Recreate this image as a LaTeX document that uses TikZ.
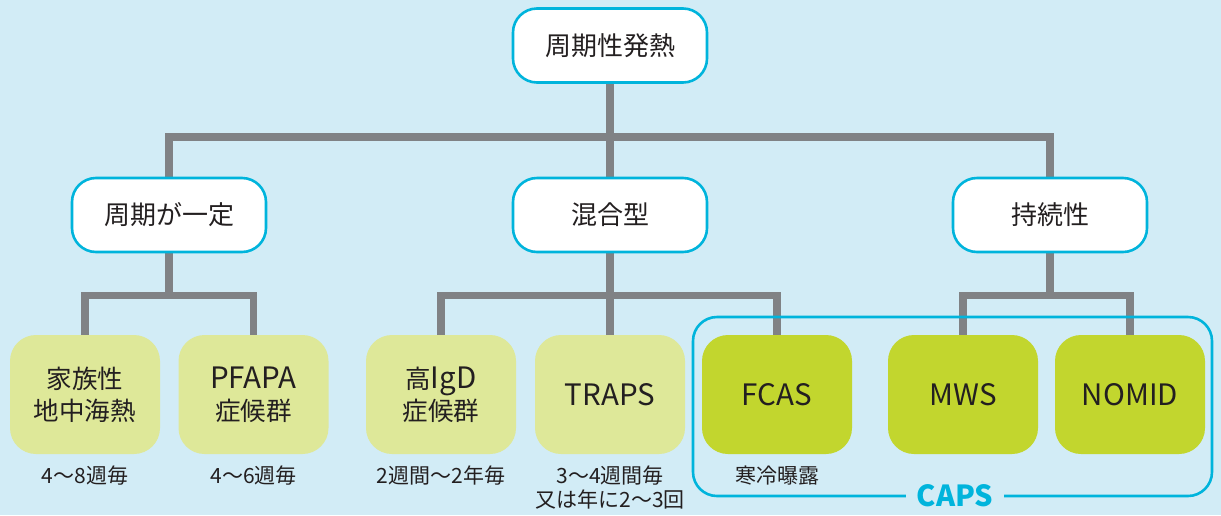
\documentclass[tikz,border=0pt]{standalone}
\usepackage{fontspec}
\setmainfont{Noto Sans CJK JP}
\usetikzlibrary{calc}
\definecolor{bgcol}{HTML}{D2ECF6}
\definecolor{cyanline}{HTML}{00B4DC}
\definecolor{graycon}{HTML}{808285}
\definecolor{lightgreen}{HTML}{DEE899}
\definecolor{brightgreen}{HTML}{C2D62E}
\definecolor{txt}{HTML}{231F20}
\newcommand{\latn}[1]{{\fontsize{29.5}{31}\selectfont #1}}
\pgfdeclarelayer{bgfill}
\pgfdeclarelayer{back}
\pgfsetlayers{bgfill,back,main}
\tikzset{
  catbox/.style={draw=cyanline, line width=2.6pt, fill=white, rounded corners=24pt,
    minimum width=194pt, minimum height=74pt, inner sep=0pt, text=txt,
    font=\fontsize{26}{30}\selectfont},
  disbox/.style={fill=lightgreen, rounded corners=26pt, minimum width=150pt,
    minimum height=119pt, inner sep=0pt, text=txt, align=center,
    font=\fontsize{25.5}{32}\selectfont},
  capsbox/.style={disbox, fill=brightgreen},
  conn/.style={draw=graycon, line width=7.5pt},
  note/.style={text=txt, align=center, inner sep=0pt, font=\fontsize{21}{24.5}\selectfont},
}
\begin{document}
\begin{tikzpicture}[x=1pt,y=-1pt]
\begin{pgfonlayer}{bgfill}
\fill[bgcol] (0,0) rectangle (1221,515);
\end{pgfonlayer}
\useasboundingbox (0,0) rectangle (1221,515);

% top and categories
\node[catbox] (root) at (610,45.5) {周期性発熱};
\node[catbox] (m1) at (169,215) {周期が一定};
\node[catbox] (m2) at (610,215) {混合型};
\node[catbox] (m3) at (1050,215) {持続性};

% diseases
\node[disbox] (b1) at (85,394.5) {家族性\\地中海熱};
\node[disbox] (b2) at (253.5,394.5) {\latn{PFAPA}\\症候群};
\node[disbox] (b3) at (441,394.5) {高\latn{IgD}\\症候群};
\node[disbox] (b4) at (610,394.5) {\latn{TRAPS}};
\node[capsbox] (b5) at (777,394.5) {\latn{FCAS}};
\node[capsbox] (b6) at (963,394.5) {\latn{MWS}};
\node[capsbox] (b7) at (1130,394.5) {\latn{NOMID}};

% notes
\node[note, anchor=base] (n1) at (85,483) {4〜8週毎};
\node[note, anchor=base] (n2) at (253.5,483) {4〜6週毎};
\node[note, anchor=base] (n3) at (441,483) {2週間〜2年毎};
\node[note, anchor=base] (n4) at (610,507.5) {3〜4週間毎\\又は年に2〜3回};
\node[note, anchor=base] (n5) at (777,483) {寒冷曝露};

% connectors
\coordinate (j0) at (610,137);
\coordinate (j1) at (169,295.5);
\coordinate (j2) at (610,295.5);
\coordinate (j3) at (1050,295.5);
\begin{pgfonlayer}{back}
\draw[conn] (root.south) -- (j0);
\draw[conn] (m1.north) |- (j0) -| (m3.north);
\draw[conn] (j0) -- (m2.north);
\draw[conn] (m1.south) -- (j1);
\draw[conn] (b1.north) |- (j1) -| (b2.north);
\draw[conn] (m2.south) -- (j2);
\draw[conn] (b3.north) |- (j2) -| (b5.north);
\draw[conn] (j2) -- (b4.north);
\draw[conn] (m3.south) -- (j3);
\draw[conn] (b6.north) |- (j3) -| (b7.north);
\end{pgfonlayer}

% CAPS group
\coordinate (c1) at (693,317);
\coordinate (c2) at (1212,496);
\draw[cyanline, line width=2.6pt, rounded corners=24pt] (c1) rectangle (c2);
\node[fill=bgcol, text=cyanline, inner xsep=11pt, inner ysep=2pt,
  font=\fontsize{29}{30}\selectfont\bfseries] (caps) at (955,496) {CAPS};
\end{tikzpicture}
\end{document}
